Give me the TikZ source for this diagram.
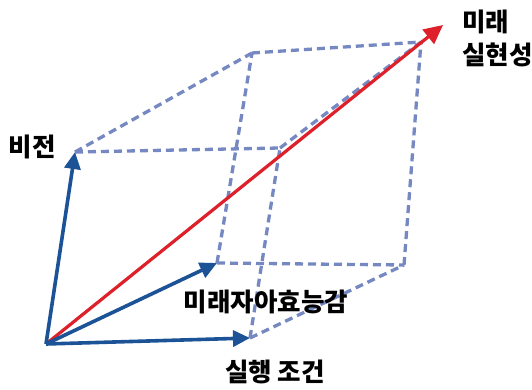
\documentclass[tikz,border=0pt]{standalone}
\usepackage{fontspec}
\setmainfont{Noto Sans CJK KR}
\usetikzlibrary{arrows.meta}
\definecolor{vecblue}{RGB}{28,82,150}
\definecolor{vecred}{RGB}{221,32,42}
\definecolor{dashblue}{RGB}{118,136,194}
\tikzset{
  edge/.style={draw=dashblue, line width=3.3pt, dash pattern=on 8pt off 5pt},
  vec/.style={draw=vecblue, line width=3.6pt, -{Triangle[length=17pt,width=16pt]}},
  result/.style={draw=vecred, line width=3.2pt, -{Triangle[length=19pt,width=18pt]}},
  lbl/.style={inner sep=0pt, font=\fontsize{25.5}{33}\selectfont\bfseries}
}
\begin{document}
\begin{tikzpicture}[x=1pt,y=1pt]
\useasboundingbox (0,0) rectangle (532,389);
\coordinate (O) at (46,45);
\coordinate (V) at (75,237);
\coordinate (S) at (217,126);
\coordinate (C) at (250,51);
\coordinate (A) at (252,336);
\coordinate (E) at (280,241);
\coordinate (D) at (404,124);
\coordinate (B) at (421,347);
\coordinate (R) at (443,364);
% dashed box
\draw[edge] (V) -- (A);
\draw[edge] (V) -- (E);
\draw[edge] (S) -- (A);
\draw[edge] (S) -- (D);
\draw[edge] (C) -- (E);
\draw[edge] (C) -- (D);
\draw[edge] (A) -- (B);
\draw[edge] (E) -- (B);
\draw[edge] (D) -- (B);
% vectors
\draw[result] (O) -- (R);
\draw[vec] (O) -- (V);
\draw[vec] (O) -- (S);
\draw[vec] (O) -- (C);
% labels
\node[lbl] (vision) at (32,242) {비전};
\node[lbl, align=left, anchor=north west] (future) at (462,379) {미래\\실현성};
\node[lbl] (efficacy) at (266,87) {미래자아효능감};
\node[lbl] (cond) at (275,17) {실행 조건};
\end{tikzpicture}
\end{document}
